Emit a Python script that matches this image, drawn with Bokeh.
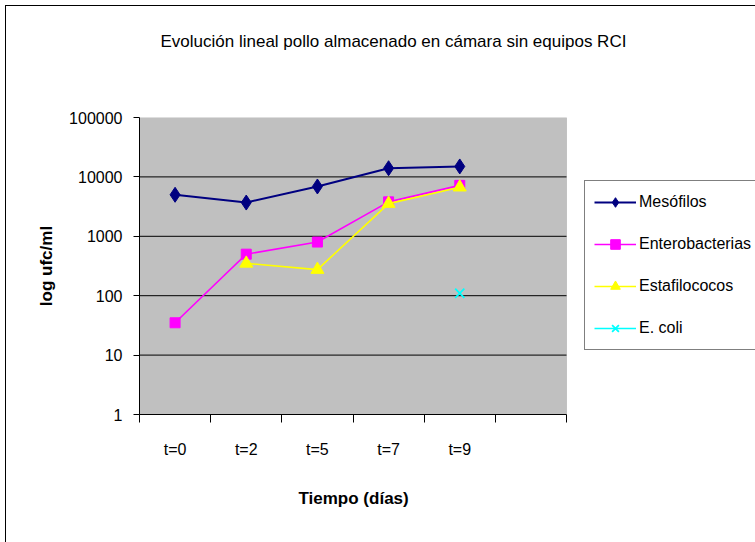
import numpy as np
from bokeh.plotting import figure
from bokeh.models import (FixedTicker, Legend, LegendItem, Range1d, Title,
                          BoxAnnotation, ColumnDataSource)
from bokeh.embed import file_html
from bokeh.resources import INLINE

# ---- data ----
categories = ["t=0", "t=2", "t=5", "t=7", "t=9", " "]
mesofilos = [5000, 3700, 6900, 14000, 15000]
enterobacterias = [35, 500, 800, 3800, 7200]
estafilococos = [np.nan, 350, 275, 3550, 6700]
e_coli = [np.nan, np.nan, np.nan, np.nan, 110]

y_ticks = [1, 10, 100, 1000, 10000, 100000]
y_tick_labels = ["1", "10", "100", "1000", "10000", "100000"]

title_text = "Evolución lineal pollo almacenado en cámara sin equipos RCI"
x_label = "Tiempo (días)"
y_label = "log ufc/ml"

# ---- layout constants (pixels) ----
FIG_W, FIG_H = 755, 542
PLOT_LEFT, PLOT_RIGHT, PLOT_TOP, PLOT_BOTTOM = 139, 566, 117, 414
FONT = "Liberation Sans"

n = len(categories)
xs = [i + 0.5 for i in range(n)]
# the frame reaches the right edge so the legend (outside the plot area) is visible
x_end = n * (FIG_W - PLOT_LEFT) / (PLOT_RIGHT - PLOT_LEFT)

p = figure(width=FIG_W, height=FIG_H,
           x_range=Range1d(0, x_end), y_range=Range1d(y_ticks[0], y_ticks[-1]),
           y_axis_type="log",
           output_backend="svg", toolbar_location=None,
           min_border_left=PLOT_LEFT, min_border_right=0,
           min_border_top=PLOT_TOP, min_border_bottom=FIG_H - PLOT_BOTTOM)

# outer chart border (left and top edges visible in the reference)
p.border_fill_color = None
p.background_fill_color = None
p.outline_line_color = None
p.styles = {"background": "linear-gradient(#000,#000) 5px 5px / 1px 100% no-repeat, "
                          "linear-gradient(#000,#000) 5px 5px / 100% 1px no-repeat, white"}

# main title (outermost) + spacer title (nearest the frame)
p.title.text = title_text
p.title.align = "left"
p.title.offset = 21
p.title.standoff = 0
p.title.text_font = FONT
p.title.text_font_size = "17px"
p.title.text_font_style = "normal"
p.title.text_color = "black"
p.add_layout(Title(text=" ", text_font_size="10px", standoff=54), "above")

# plot area (grey box over the categories)
p.add_layout(BoxAnnotation(left=0, right=n, bottom=y_ticks[0], top=y_ticks[-1],
                           fill_color="#C0C0C0", fill_alpha=1,
                           line_color="#808080", line_width=1, level="underlay"))

# horizontal grid lines limited to the plot area
p.xgrid.visible = False
p.ygrid.visible = False
grid_vals = y_ticks[1:-1]
grid_src = ColumnDataSource(dict(x0=[0] * len(grid_vals), x1=[n] * len(grid_vals),
                                 y=grid_vals))
p.segment(x0="x0", y0="y", x1="x1", y1="y", source=grid_src,
          line_color="black", line_width=1)

# y axis
p.yaxis.ticker = FixedTicker(ticks=y_ticks)
p.yaxis.major_label_overrides = {t: l for t, l in zip(y_ticks, y_tick_labels)}
p.yaxis.major_tick_out = 6
p.yaxis.major_tick_in = 0
p.yaxis.minor_tick_out = 0
p.yaxis.minor_tick_in = 0
p.yaxis.axis_line_color = "black"
p.yaxis.major_label_text_font = FONT
p.yaxis.major_label_text_font_size = "16px"
p.yaxis.major_label_text_color = "black"
p.yaxis.major_label_standoff = 11
p.yaxis.axis_label = y_label
p.yaxis.axis_label_text_font = FONT
p.yaxis.axis_label_text_font_size = "17px"
p.yaxis.axis_label_text_font_style = "bold"
p.yaxis.axis_label_text_color = "black"
p.yaxis.axis_label_standoff = 10

# x axis (ticks at category boundaries, labels at category centres)
p.xaxis.bounds = (0, n)
p.xaxis.ticker = FixedTicker(ticks=xs, minor_ticks=list(range(n + 1)))
p.xaxis.major_label_overrides = {x: c for x, c in zip(xs, categories)}
p.xaxis.major_tick_out = 0
p.xaxis.major_tick_in = 0
p.xaxis.minor_tick_out = 8
p.xaxis.minor_tick_in = 0
p.xaxis.axis_line_color = "black"
p.xaxis.major_label_text_font = FONT
p.xaxis.major_label_text_font_size = "16px"
p.xaxis.major_label_text_color = "black"
p.xaxis.major_label_standoff = 18

# x axis title, centred under the plot area
p.add_layout(Title(text=x_label, align="left", offset=159, vertical_align="top",
                   standoff=56, text_font=FONT, text_font_size="17px",
                   text_font_style="bold", text_color="black"), "below")

# series
x5 = xs[:5]
l1 = p.line(x5, mesofilos, line_color="#000080", line_width=2)
s1 = p.scatter(x5, mesofilos, marker="diamond", size=15, fill_color="#000080", line_color="#000080")
l2 = p.line(x5, enterobacterias, line_color="#FF00FF", line_width=1.6)
s2 = p.scatter(x5, enterobacterias, marker="square", size=10, fill_color="#FF00FF", line_color="#FF00FF")
l3 = p.line(x5, estafilococos, line_color="#FFFF00", line_width=1.6)
s3 = p.scatter(x5, estafilococos, marker="triangle", size=13, fill_color="#FFFF00", line_color="#FFFF00")
l4 = p.line(x5, e_coli, line_color="#00FFFF", line_width=1.6)
s4 = p.scatter(x5, e_coli, marker="x", size=13, line_color="#00FFFF", line_width=1.8)

legend = Legend(items=[
    LegendItem(label="Mesófilos", renderers=[l1, s1]),
    LegendItem(label="Enterobacterias", renderers=[l2, s2]),
    LegendItem(label="Estafilococos", renderers=[l3, s3]),
    LegendItem(label="E. coli", renderers=[l4, s4]),
])
legend.location = (584 - PLOT_LEFT, PLOT_BOTTOM - 350)
legend.border_line_color = "black"
legend.border_line_width = 1
legend.background_fill_color = "white"
legend.background_fill_alpha = 1
legend.label_text_font = FONT
legend.label_text_font_size = "16px"
legend.label_text_color = "black"
legend.glyph_width = 42
legend.glyph_height = 24
legend.label_height = 24
legend.spacing = 18
legend.padding = 9
legend.margin = 0
legend.label_standoff = 3
p.add_layout(legend, "center")

open("out.html", "w").write(file_html(p, INLINE))
